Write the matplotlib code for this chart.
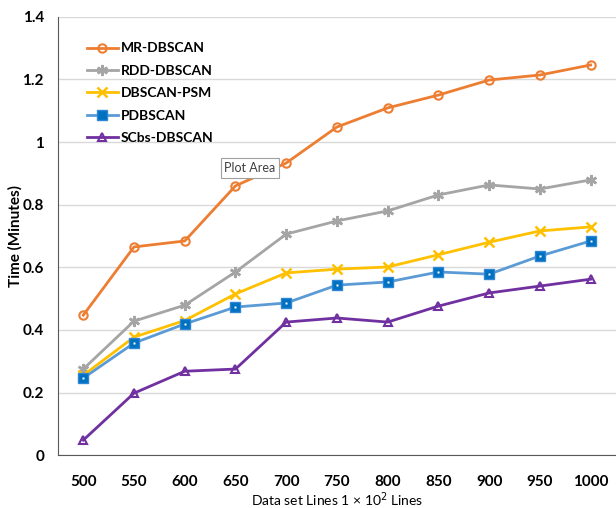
import matplotlib.pyplot as plt
import numpy as np

# data set size (x 10^2 lines) and run time in minutes
sizes = ['500', '550', '600', '650', '700', '750', '800', '850', '900', '950', '1000']
mr_dbscan = [0.447, 0.665, 0.684, 0.86, 0.933, 1.048, 1.109, 1.15, 1.198, 1.214, 1.246]
rdd_dbscan = [0.275, 0.428, 0.479, 0.585, 0.706, 0.748, 0.78, 0.831, 0.863, 0.85, 0.879]
dbscan_psm = [0.255, 0.377, 0.43, 0.515, 0.582, 0.594, 0.601, 0.64, 0.68, 0.716, 0.729]
pdbscan = [0.246, 0.358, 0.419, 0.473, 0.486, 0.543, 0.553, 0.585, 0.578, 0.636, 0.684]
scbs_dbscan = [0.048, 0.198, 0.268, 0.275, 0.425, 0.438, 0.425, 0.476, 0.518, 0.54, 0.562]
yticks = [0, 0.2, 0.4, 0.6, 0.8, 1.0, 1.2, 1.4]
ytick_labels = ['0', '0.2', '0.4', '0.6', '0.8', '1', '1.2', '1.4']

plt.rcParams['font.family'] = ['Lato', 'DejaVu Sans']

fig = plt.figure(figsize=(6.16, 5.08), dpi=100)
ax = fig.add_axes([0.094, 0.104, 0.906, 0.863])
x = np.arange(len(sizes))
lw = 2

ax.plot(x, mr_dbscan, color='#ED7D31', lw=lw, marker='o', ms=6, mfc='none',
        mec='#ED7D31', mew=1.5, label='MR-DBSCAN')
ax.plot(x, rdd_dbscan, color='#A5A5A5', lw=lw, marker=(6, 2, 0), ms=8,
        mec='#A5A5A5', mew=1.8, label='RDD-DBSCAN')
ax.plot(x, dbscan_psm, color='#FFC000', lw=lw, marker='x', ms=7,
        mec='#FFC000', mew=1.8, label='DBSCAN-PSM')
ax.plot(x, pdbscan, color='#5B9BD5', lw=lw, marker='s', ms=7, mfc='#0070C0',
        mec='#2E86D6', mew=1, label='PDBSCAN')
ax.plot(x, pdbscan, ls='none', marker='s', ms=2, mfc='white', mec='none')
ax.plot(x, scbs_dbscan, color='#7030A0', lw=lw, marker='^', ms=6, mfc='none',
        mec='#7030A0', mew=1.5, label='SCbs-DBSCAN')

ax.set_xlim(-0.5, len(sizes) - 0.5)
ax.set_ylim(0, 1.4)
ax.set_xticks(x)
ax.set_xticklabels(sizes, fontsize=11, fontweight='bold')
ax.set_yticks(yticks)
ax.set_yticklabels(ytick_labels, fontsize=11, fontweight='bold')
ax.tick_params(length=0, pad=14, axis='x')
ax.tick_params(length=0, pad=10, axis='y')
ax.grid(axis='y', color='#D9D9D9', lw=1)
ax.set_axisbelow(True)
for s in ['top', 'right']:
    ax.spines[s].set_visible(False)
ax.spines['left'].set_color('#595959')
ax.spines['bottom'].set_color('#595959')

ax.set_xlabel('Data set Lines 1 × 10$^2$ Lines', fontsize=10, labelpad=1)
ax.set_ylabel('Time (Minutes)', fontsize=11, fontweight='bold', labelpad=0)

leg = ax.legend(loc='upper left', bbox_to_anchor=(0.03, 0.97), frameon=False,
                fontsize=10, handlelength=2.2, handletextpad=0.2, labelspacing=0.75)
for t in leg.get_texts():
    t.set_fontweight('bold')

ax.text(2.78, 0.905, 'Plot Area', fontsize=9, color='#404040',
        bbox=dict(boxstyle='square,pad=0.3', fc='white', ec='#A0A0A0', lw=0.8))

fig.savefig('out.png', dpi=100)
